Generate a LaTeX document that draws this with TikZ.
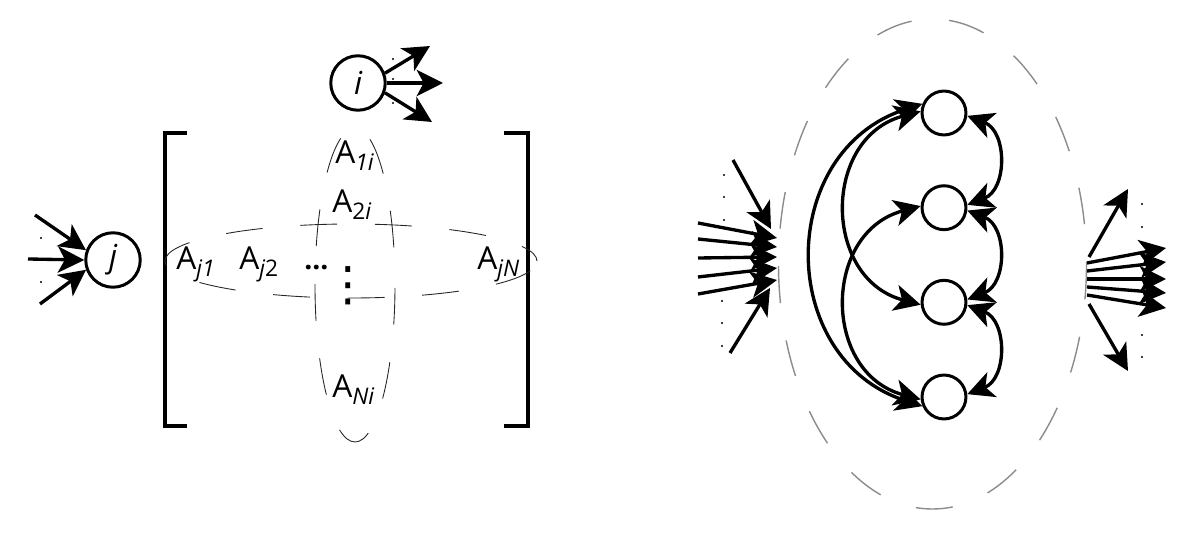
\documentclass[tikz,border=0pt]{standalone}
\usepackage{fontspec}
\setmainfont{Open Sans}
\newfontfamily\symfont{DejaVu Sans}
\usetikzlibrary{arrows.meta}
\newcommand\mysub[1]{\raisebox{-3.5pt}{\fontsize{13}{14}\selectfont\itshape #1}}
\begin{document}
\begin{tikzpicture}[x=0.02cm,y=0.02cm,
  >={Stealth[length=15pt,width=15pt,inset=4pt]},
  conn/.style={line width=1.9pt,->},
  dconn/.style={line width=1.9pt,<->},
  circ/.style={circle,draw,line width=1.7pt,fill=white,inner sep=0pt},
  lab/.style={inner sep=0pt,anchor=base west,font=\fontsize{18}{21}\selectfont},
  letter/.style={font=\fontsize{18}{20}\selectfont\itshape},
  mdash/.style={line width=0.5pt,black!85,dash pattern=on 21pt off 21.5pt},
  gdash/.style={line width=0.8pt,black!45,dash pattern=on 21pt off 21.5pt},
  brk/.style={line width=1.8pt},
  dotm/.style={radius=1.1}]
\useasboundingbox (0,0) rectangle (1194,-536);

% ---------- left: matrix ----------
\node[circ,minimum size=31pt,letter] (i) at (358,-83) {i};
\node[circ,minimum size=31pt,letter] (j) at (113,-260) {j};

\coordinate (jin1) at (35,-215);
\coordinate (jin2) at (28,-259);
\coordinate (jin3) at (40,-304);
\draw[conn] (jin1) -- (j.160);
\draw[conn] (jin2) -- (j.180);
\draw[conn] (jin3) -- (j.200);
\fill (41,-238) circle[dotm];
\fill (41,-282) circle[dotm];

\coordinate (io1) at (430,-46);
\coordinate (io2) at (443,-83);
\coordinate (io3) at (432,-122);
\draw[conn] (i.20) -- (io1);
\draw[conn] (i.0) -- (io2);
\draw[conn] (i.340) -- (io3);
\fill (393,-59) circle[dotm];
\fill (393,-79) circle[dotm];
\fill (393,-103) circle[dotm];

% brackets
\draw[brk] (187,-133) -- (165,-133) -- (165,-426) -- (187,-426);
\draw[brk] (504,-133) -- (528,-133) -- (528,-426) -- (504,-426);

% dashed ellipses
\draw[mdash,dash phase=21.1pt] (355,-285) ellipse [x radius=40, y radius=157];
\draw[mdash,dash phase=8.5pt] (351,-261) ellipse [x radius=186, y radius=37];

% labels
\node[lab] (a1i) at (335,-164) {A\mysub{1i}};
\node[lab] (a2i) at (332,-213) {A\mysub{\upshape 2\itshape i}};
\node[lab] (ani) at (332,-398) {A\mysub{Ni}};
\node[lab] (aj1) at (176,-270) {A\mysub{j1}};
\node[lab] (aj2) at (239,-270) {A\mysub{j\upshape 2}};
\node[lab] (ajn) at (477,-270) {A\mysub{jN}};
\node[lab,font=\fontsize{16}{19}\selectfont\bfseries] (hd) at (304,-270) {...};
\node[inner sep=0pt,font=\fontsize{27}{30}\selectfont\symfont] (vd) at (348,-286) {⋮};

% ---------- right: network ----------
\draw[gdash,dash phase=19.8pt] (932.5,-264) ellipse [x radius=154, y radius=245];

\node[circ,minimum size=25pt] (c1) at (944,-113) {};
\node[circ,minimum size=25pt] (c2) at (944,-207.7) {};
\node[circ,minimum size=25pt] (c3) at (944,-302.3) {};
\node[circ,minimum size=25pt] (c4) at (944,-397) {};

\draw[dconn] (c1.157) .. controls +(198:154) and +(162:154) .. (c4.203);
\draw[dconn] (c1.176) .. controls +(195:102) and +(165:102) .. (c3.186);
\draw[dconn] (c2.176) .. controls +(195:102) and +(165:102) .. (c4.186);
\draw[dconn] (c1.353) .. controls +(-21:43) and +(21:43) .. (c2.7);
\draw[dconn] (c2.353) .. controls +(-21:43) and +(21:43) .. (c3.7);
\draw[dconn] (c3.353) .. controls +(-21:43) and +(21:43) .. (c4.7);

% inputs
\coordinate (ia0) at (733,-160); \coordinate (ib0) at (771,-229);
\coordinate (ia1) at (698,-223); \coordinate (ib1) at (777,-238);
\coordinate (ia2) at (698,-239); \coordinate (ib2) at (777,-247);
\coordinate (ia3) at (698,-258); \coordinate (ib3) at (777,-257);
\coordinate (ia4) at (698,-277); \coordinate (ib4) at (777,-268);
\coordinate (ia5) at (698,-294); \coordinate (ib5) at (777,-280);
\coordinate (ia6) at (730,-353); \coordinate (ib6) at (770,-288);
\foreach \k in {0,...,6} {\draw[conn] (ia\k) -- (ib\k);}
\foreach \yy in {175,197,220} {\fill (724,-\yy) circle[dotm];}
\foreach \yy in {301,323,346} {\fill (722,-\yy) circle[dotm];}

% outputs
\coordinate (oa0) at (1089,-257); \coordinate (ob0) at (1128,-189);
\coordinate (oa1) at (1087,-263); \coordinate (ob1) at (1166,-248);
\coordinate (oa2) at (1087,-271); \coordinate (ob2) at (1166,-262);
\coordinate (oa3) at (1087,-279); \coordinate (ob3) at (1166,-279);
\coordinate (oa4) at (1087,-287); \coordinate (ob4) at (1166,-293);
\coordinate (oa5) at (1087,-295); \coordinate (ob5) at (1166,-308);
\coordinate (oa6) at (1089,-304); \coordinate (ob6) at (1128,-371);
\foreach \k in {0,...,6} {\draw[conn] (oa\k) -- (ob\k);}
\foreach \yy in {204,227,335,357} {\fill (1142,-\yy) circle[dotm];}
\end{tikzpicture}
\end{document}
